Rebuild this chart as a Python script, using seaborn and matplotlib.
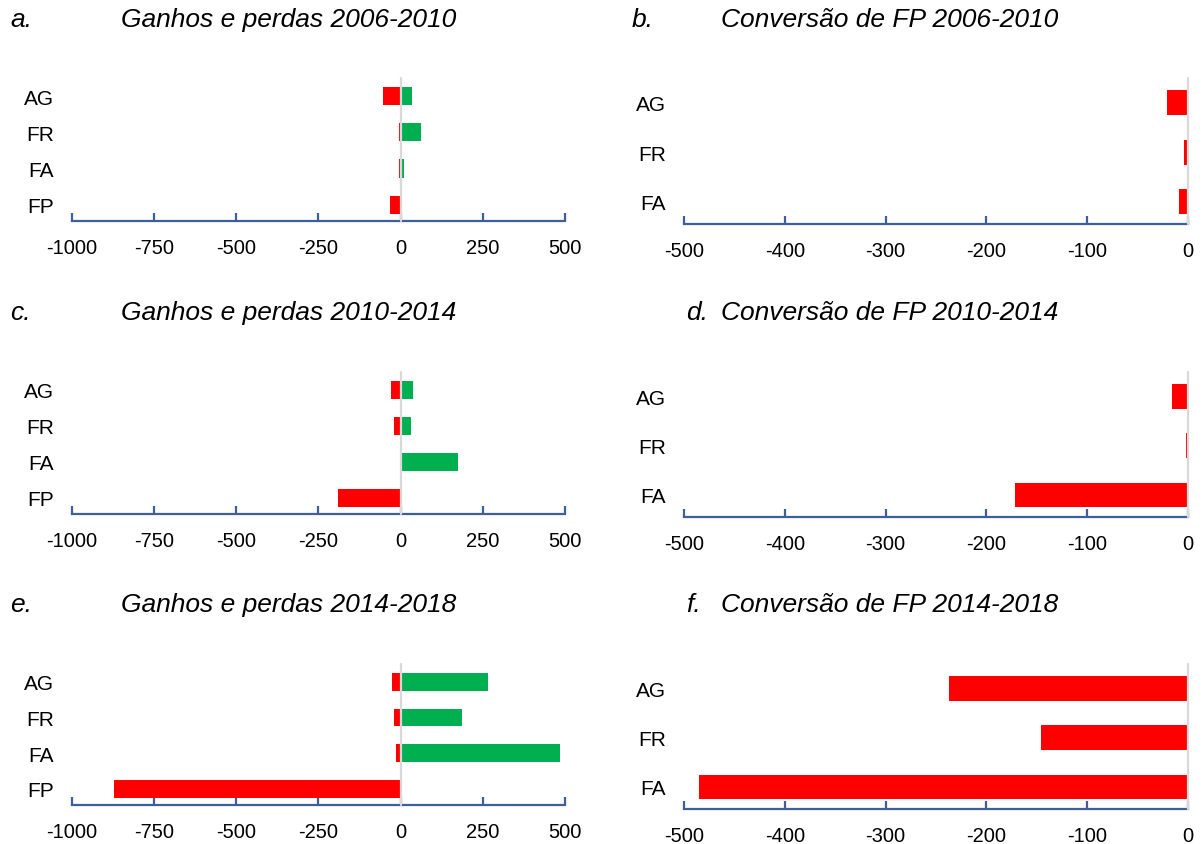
import matplotlib
matplotlib.use("Agg")
import matplotlib.pyplot as plt
import seaborn as sns
import pandas as pd

# ---- data ----
cats_left = ["AG", "FR", "FA", "FP"]
cats_right = ["AG", "FR", "FA"]

loss_2006_2010 = [-55, -4, -5, -33]
gain_2006_2010 = [33, 62, 9, 0]
loss_2010_2014 = [-28, -20, 0, -191]
gain_2010_2014 = [38, 31, 174, 0]
loss_2014_2018 = [-27, -19, -15, -871]
gain_2014_2018 = [267, 187, 486, 0]

conv_2006_2010 = [-21, -4, -9]
conv_2010_2014 = [-16, -2, -172]
conv_2014_2018 = [-237, -146, -485]

left_ticks = [-1000, -750, -500, -250, 0, 250, 500]
right_ticks = [-500, -400, -300, -200, -100, 0]

letters = ["a.", "b.", "c.", "d.", "e.", "f."]
titles = ["Ganhos e perdas 2006-2010", "Conversão de FP 2006-2010",
          "Ganhos e perdas 2010-2014", "Conversão de FP 2010-2014",
          "Ganhos e perdas 2014-2018", "Conversão de FP 2014-2018"]

RED = "#FF0000"
GREEN = "#00B050"
AXC = "#3F5F9A"
ZEROC = "#D9D9D9"

sns.set_theme(style="white")
plt.rcParams["font.family"] = ["Liberation Sans", "DejaVu Sans"]
plt.rcParams["text.color"] = "black"

W, H = 1202, 845
fig = plt.figure(figsize=(W / 100, H / 100), dpi=100)


def add_ax(x0, x1, y0, y1):
    return fig.add_axes([x0 / W, 1 - y1 / H, (x1 - x0) / W, (y1 - y0) / H])


def style(ax, ticks, ylim, pad):
    ax.set_xlim(ticks[0], ticks[-1])
    ax.set_ylim(*ylim)
    ax.set_xticks(ticks)
    ax.set_xticklabels([str(t) for t in ticks])
    for s in ["top", "left", "right"]:
        ax.spines[s].set_visible(False)
    ax.spines["bottom"].set_color(AXC)
    ax.spines["bottom"].set_linewidth(1.6)
    ax.tick_params(axis="x", direction="in", length=6, width=1.6, color=AXC,
                   labelsize=14.5, pad=pad, labelcolor="black", bottom=True)
    ax.tick_params(axis="y", length=0, labelsize=15, pad=13, labelcolor="black")
    ax.set_xlabel("")
    ax.set_ylabel("")
    ax.grid(False)
    ax.axvline(0, color=ZEROC, lw=1.6, zorder=5, clip_on=False)


left_rows = [(79, 222), (373, 515), (665, 806)]
right_rows = [(79, 225), (373, 518), (665, 810)]
losses = [loss_2006_2010, loss_2010_2014, loss_2014_2018]
gains = [gain_2006_2010, gain_2010_2014, gain_2014_2018]
convs = [conv_2006_2010, conv_2010_2014, conv_2014_2018]

for i in range(3):
    axl = add_ax(72, 565, *left_rows[i])
    dfl = pd.DataFrame({"cat": cats_left, "loss": losses[i], "gain": gains[i]})
    sns.barplot(data=dfl, x="loss", y="cat", order=cats_left, orient="h",
                color=RED, saturation=1, width=0.5, ax=axl, linewidth=0)
    sns.barplot(data=dfl, x="gain", y="cat", order=cats_left, orient="h",
                color=GREEN, saturation=1, width=0.5, ax=axl, linewidth=0)
    style(axl, left_ticks, (3.45, -0.5), 12)

    axr = add_ax(684, 1188, *right_rows[i])
    dfr = pd.DataFrame({"cat": cats_right, "conv": convs[i]})
    sns.barplot(data=dfr, x="conv", y="cat", order=cats_right, orient="h",
                color=RED, saturation=1, width=0.5, ax=axr, linewidth=0)
    style(axr, right_ticks, (2.45, -0.5), 12)

title_y = [20, 313, 605]
tfont = dict(fontsize=19, style="italic", va="center", ha="left", color="black")
for i in range(3):
    y = 1 - title_y[i] / H
    fig.text(10 / W, y, letters[2 * i], **tfont)
    fig.text(121 / W, y, titles[2 * i], **tfont)
    bx = 632 if i == 0 else 686
    fig.text(bx / W, y, letters[2 * i + 1], **tfont)
    fig.text(721 / W, y, titles[2 * i + 1], **tfont)

fig.savefig("out.png", dpi=100, facecolor="white")
